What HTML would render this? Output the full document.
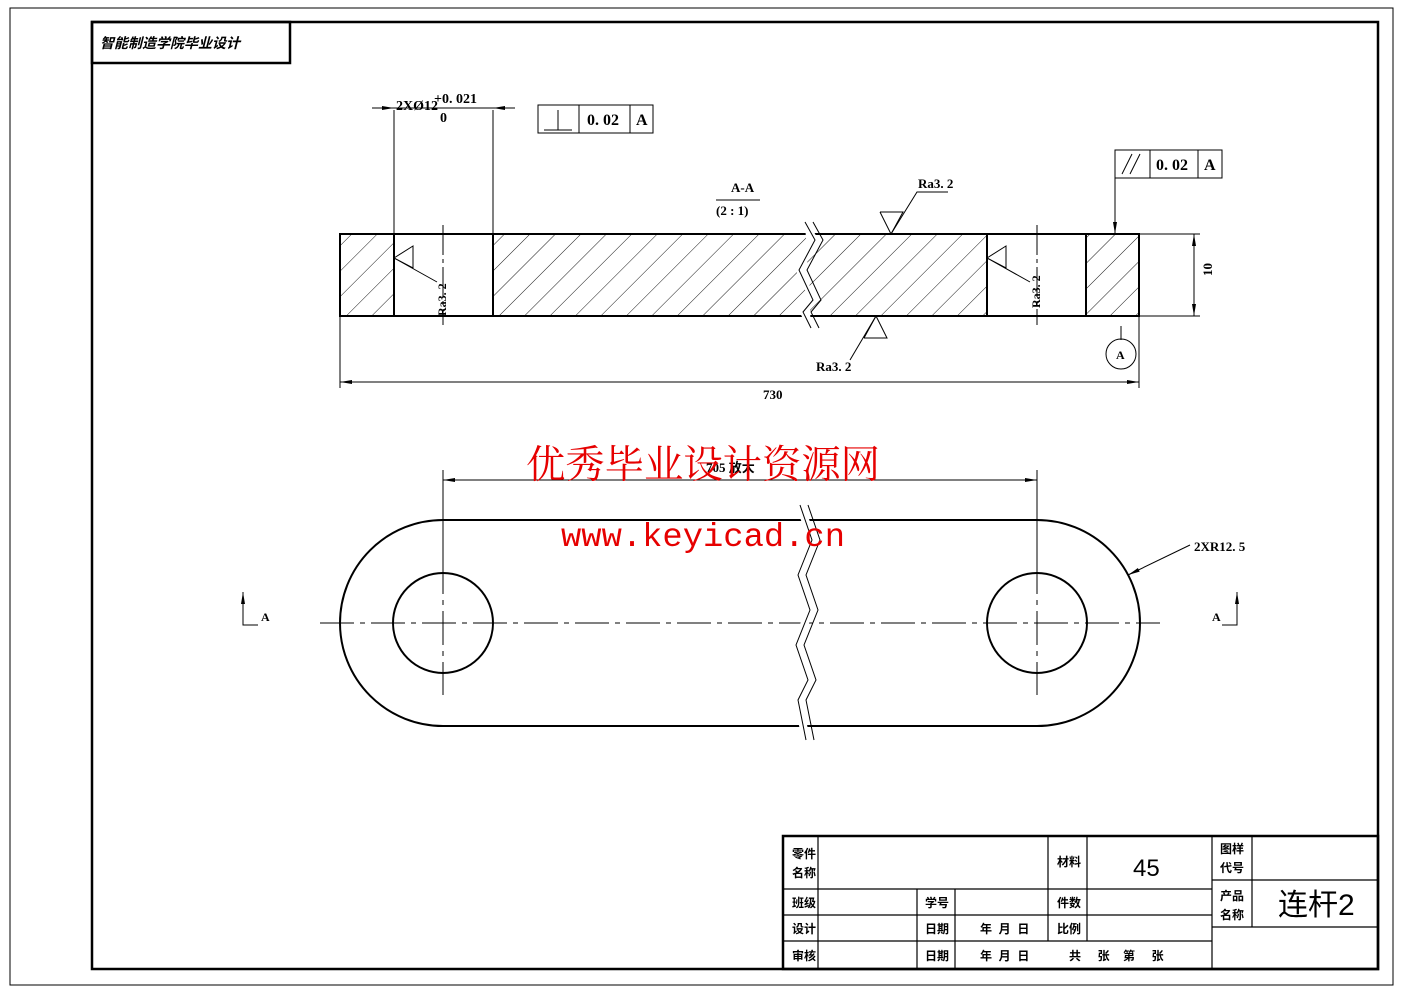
<!DOCTYPE html>
<html><head><meta charset="utf-8"><style>
html,body{margin:0;padding:0;background:#fff;}
svg{display:block;}
text{font-family:"Liberation Sans","Noto Sans CJK SC",sans-serif;fill:#000;}
.c{font-family:"Liberation Serif","Noto Sans CJK SC",serif;}
</style></head><body>
<svg width="1403" height="992" viewBox="0 0 1403 992" xmlns="http://www.w3.org/2000/svg">
<defs>
<pattern id="h" width="18" height="18" patternUnits="userSpaceOnUse" patternTransform="rotate(45)">
<line x1="0" y1="0" x2="0" y2="18" stroke="#000" stroke-width="0.9"/>
</pattern>
<marker id="ar" markerWidth="12" markerHeight="6" refX="12" refY="3" orient="auto" markerUnits="userSpaceOnUse"><path d="M0,1 L12,3 L0,5z" fill="#000"/></marker>
</defs>
<rect x="10" y="8" width="1383" height="977" fill="none" stroke="#000" stroke-width="1"/>
<rect x="92" y="22" width="1286" height="947" fill="none" stroke="#000" stroke-width="2.5"/>
<rect x="92" y="22" width="198" height="41" fill="none" stroke="#000" stroke-width="2.5"/>
<text x="100" y="48" font-size="14" font-weight="bold" font-style="italic">智能制造学院毕业设计</text>

<!-- section view -->
<rect x="340" y="234" width="54" height="82" fill="url(#h)"/>
<rect x="493" y="234" width="494" height="82" fill="url(#h)"/>
<rect x="1086" y="234" width="53" height="82" fill="url(#h)"/>
<g stroke="#000" stroke-width="2" fill="none">
<rect x="340" y="234" width="799" height="82"/>
<line x1="394" y1="234" x2="394" y2="316"/><line x1="493" y1="234" x2="493" y2="316"/>
<line x1="987" y1="234" x2="987" y2="316"/><line x1="1086" y1="234" x2="1086" y2="316"/>
</g>
<g stroke="#000" stroke-width="1" fill="none">
<polyline points="805,222 815,240 799,270 813,300 803,312 811,328" fill="#fff" stroke="#fff" stroke-width="6"/>
<polyline points="805,222 815,240 799,270 813,300 803,312 811,328"/>
<polyline points="813,222 823,240 807,270 821,300 811,312 819,328"/>
<line x1="443" y1="225" x2="443" y2="325" stroke-dasharray="30,4,4,4"/>
<line x1="1037" y1="225" x2="1037" y2="325" stroke-dasharray="30,4,4,4"/>
<line x1="394" y1="110" x2="394" y2="234"/><line x1="493" y1="110" x2="493" y2="234"/>
<line x1="372" y1="108" x2="394" y2="108" marker-end="url(#ar)"/>
<line x1="515" y1="108" x2="493" y2="108" marker-end="url(#ar)"/>
<line x1="394" y1="108" x2="493" y2="108"/>
<polyline points="394,258 413,246 413,268 394,258 437,282"/>
<polyline points="987,258 1006,246 1006,268 987,258 1030,282"/>
<polyline points="880,212 903,212 891,234 880,212"/><polyline points="891,234 917,192 948,192"/>
<polyline points="864,338 887,338 876,316 864,338"/><polyline points="876,316 850,360"/>
<line x1="340" y1="316" x2="340" y2="388"/><line x1="1139" y1="316" x2="1139" y2="388"/>
<line x1="340" y1="382" x2="1139" y2="382" />
<line x1="360" y1="382" x2="340" y2="382" marker-end="url(#ar)"/>
<line x1="1120" y1="382" x2="1139" y2="382" marker-end="url(#ar)"/>
<line x1="1139" y1="234" x2="1200" y2="234"/><line x1="1139" y1="316" x2="1200" y2="316"/>
<line x1="1194" y1="234" x2="1194" y2="316"/>
<line x1="1194" y1="255" x2="1194" y2="234" marker-end="url(#ar)"/>
<line x1="1194" y1="295" x2="1194" y2="316" marker-end="url(#ar)"/>
<line x1="1121" y1="326" x2="1121" y2="340"/>
<circle cx="1121" cy="354" r="15"/>
<rect x="538" y="105" width="115" height="28"/><line x1="579" y1="105" x2="579" y2="133"/><line x1="630" y1="105" x2="630" y2="133"/>
<line x1="544" y1="130" x2="572" y2="130"/><line x1="558" y1="110" x2="558" y2="130"/>
<rect x="1115" y="150" width="107" height="28"/><line x1="1150" y1="150" x2="1150" y2="178"/><line x1="1198" y1="150" x2="1198" y2="178"/>
<line x1="1122" y1="174" x2="1132" y2="154"/><line x1="1130" y1="174" x2="1140" y2="154"/>
<line x1="1115" y1="178" x2="1115" y2="190"/><line x1="1115" y1="190" x2="1115" y2="234" marker-end="url(#ar)"/>
<line x1="716" y1="200" x2="760" y2="200"/>
</g>
<g class="c" font-weight="bold">
<text x="396" y="110" font-size="14" class="c">2XØ12</text>
<text x="434" y="103" font-size="14" class="c">+0. 021</text>
<text x="440" y="122" font-size="14" class="c">0</text>
<text x="587" y="125" font-size="16" class="c">0. 02</text>
<text x="636" y="125" font-size="16" class="c">A</text>
<text x="1156" y="170" font-size="16" class="c">0. 02</text>
<text x="1204" y="170" font-size="16" class="c">A</text>
<text x="731" y="192" font-size="13" class="c">A-A</text>
<text x="716" y="215" font-size="13" class="c">(2 : 1)</text>
<text x="918" y="188" font-size="13" class="c">Ra3. 2</text>
<text x="816" y="371" font-size="13" class="c">Ra3. 2</text>
<text x="763" y="399" font-size="13" class="c">730</text>
<text x="1116" y="359" font-size="12" class="c">A</text>
<text transform="translate(1212,276) rotate(-90)" font-size="13" class="c">10</text>
<text transform="translate(446,316) rotate(-90)" font-size="12" class="c">Ra3. 2</text>
<text transform="translate(1040,308) rotate(-90)" font-size="12" class="c">Ra3. 2</text>
</g>

<!-- plan view -->
<g stroke="#000" fill="none">
<path d="M443,520 L1037,520 A103,103 0 0 1 1037,726 L443,726 A103,103 0 0 1 443,520 Z" stroke-width="2"/>
<circle cx="443" cy="623" r="50" stroke-width="2"/>
<circle cx="1037" cy="623" r="50" stroke-width="2"/>
<line x1="320" y1="623" x2="1160" y2="623" stroke-dasharray="34,6,5,6" stroke-width="1"/>
<line x1="443" y1="560" x2="443" y2="695" stroke-dasharray="34,6,5,6" stroke-width="1"/>
<line x1="1037" y1="560" x2="1037" y2="695" stroke-dasharray="34,6,5,6" stroke-width="1"/>
<line x1="443" y1="470" x2="443" y2="575" stroke-width="1"/>
<line x1="1037" y1="470" x2="1037" y2="575" stroke-width="1"/>
<line x1="443" y1="480" x2="1037" y2="480" stroke-width="1"/>
<line x1="463" y1="480" x2="443" y2="480" marker-end="url(#ar)" stroke-width="1"/>
<line x1="1017" y1="480" x2="1037" y2="480" marker-end="url(#ar)" stroke-width="1"/>
<polyline points="800,505 812,540 798,575 810,610 796,645 808,680 798,700 806,740" stroke="#fff" stroke-width="8"/>
<polyline points="800,505 812,540 798,575 810,610 796,645 808,680 798,700 806,740" stroke-width="1"/>
<polyline points="808,505 820,540 806,575 818,610 804,645 816,680 806,700 814,740" stroke-width="1"/>
<line x1="1190" y1="545" x2="1128" y2="575" marker-end="url(#ar)" stroke-width="1"/>
<polyline points="243,593 243,625 258,625" stroke-width="1"/>
<line x1="243" y1="610" x2="243" y2="592" marker-end="url(#ar)" stroke-width="1"/>
<polyline points="1222,625 1237,625 1237,593" stroke-width="1"/>
<line x1="1237" y1="610" x2="1237" y2="592" marker-end="url(#ar)" stroke-width="1"/>
</g>
<text x="706" y="472" font-size="13" class="c" font-weight="bold">705 放大</text>
<text x="1194" y="551" font-size="13" class="c" font-weight="bold">2XR12. 5</text>
<text x="261" y="621" font-size="12" class="c" font-weight="bold">A</text>
<text x="1212" y="621" font-size="12" class="c" font-weight="bold">A</text>

<!-- watermark -->
<text x="526" y="478" font-size="39" textLength="354" lengthAdjust="spacingAndGlyphs" style="fill:#e60000;font-family:'Liberation Serif','Noto Serif CJK SC',serif">优秀毕业设计资源网</text>
<text x="561" y="546" font-size="33" textLength="284" lengthAdjust="spacingAndGlyphs" style="fill:#e60000;font-family:'Liberation Mono',monospace">www.keyicad.cn</text>

<!-- title block -->
<g stroke="#000" fill="none">
<rect x="783" y="836" width="595" height="133" stroke-width="2.5"/>
<g stroke-width="1.2">
<line x1="818" y1="836" x2="818" y2="969"/>
<line x1="917" y1="889" x2="917" y2="969"/>
<line x1="955" y1="889" x2="955" y2="969"/>
<line x1="1048" y1="836" x2="1048" y2="941"/>
<line x1="1087" y1="836" x2="1087" y2="941"/>
<line x1="1212" y1="836" x2="1212" y2="969"/>
<line x1="1252" y1="836" x2="1252" y2="927"/>
<line x1="783" y1="889" x2="1212" y2="889"/>
<line x1="783" y1="915" x2="1212" y2="915"/>
<line x1="783" y1="941" x2="1212" y2="941"/>
<line x1="1212" y1="880" x2="1378" y2="880"/>
<line x1="1212" y1="927" x2="1378" y2="927"/>
</g></g>
<g font-size="12" font-weight="bold">
<text x="792" y="858">零件</text><text x="792" y="877">名称</text>
<text x="1057" y="866">材料</text>
<text x="1133" y="876" font-size="24" font-weight="normal">45</text>
<text x="1220" y="853">图样</text><text x="1220" y="872">代号</text>
<text x="1220" y="900">产品</text><text x="1220" y="919">名称</text>
<text x="1278" y="915" font-size="30" font-weight="normal">连杆2</text>
<text x="792" y="907">班级</text><text x="925" y="907">学号</text><text x="1057" y="907">件数</text>
<text x="792" y="933">设计</text><text x="925" y="933">日期</text><text x="980" y="933">年 &#160;月 &#160;日</text><text x="1057" y="933">比例</text>
<text x="792" y="960">审核</text><text x="925" y="960">日期</text><text x="980" y="960">年 &#160;月 &#160;日</text>
<text x="1069" y="960">共 &#160; &#160; 张 &#160; &#160;第 &#160; &#160; 张</text>
</g>
</svg>
</body></html>
